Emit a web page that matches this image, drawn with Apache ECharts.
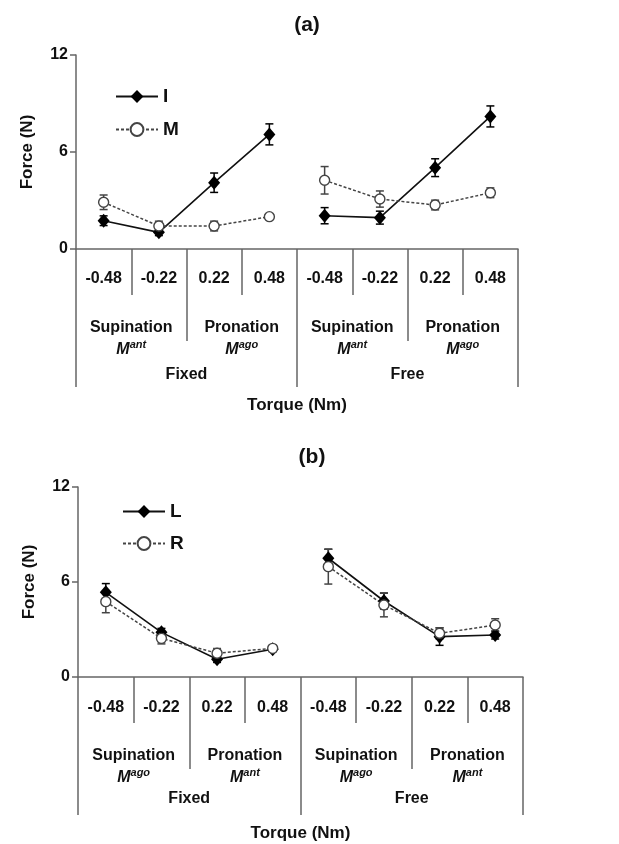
<!DOCTYPE html>
<html>
<head>
<meta charset="utf-8">
<script src="https://cdn.jsdelivr.net/npm/echarts@6/dist/echarts.min.js"></script>
<style>
  html, body { margin: 0; padding: 0; background: #fff; }
  #chart { width: 619px; height: 844px; }
</style>
</head>
<body>
<div id="chart"></div>
<script>
// tick labels / categories
var torque = ['-0.48', '-0.22', '0.22', '0.48', '-0.48', '-0.22', '0.22', '0.48']
var motion = ['Supination', 'Pronation', 'Supination', 'Pronation']
var muscleA = ['ant', 'ago', 'ant', 'ago']
var muscleB = ['ago', 'ant', 'ago', 'ant']
var condition = ['Fixed', 'Free']

// panel (a): I and M
var iMean = [1.75, 1.03, 4.1, 7.09, 2.06, 1.94, 5.03, 8.2]
var iErr = [0.3, 0.2, 0.6, 0.65, 0.5, 0.4, 0.55, 0.65]
var mMean = [2.89, 1.42, 1.42, 2.0, 4.25, 3.09, 2.72, 3.48]
var mErr = [0.45, 0.3, 0.3, 0.15, 0.85, 0.5, 0.3, 0.3]

// panel (b): L and R
var lMean = [5.35, 2.82, 1.12, 1.75, 7.5, 4.8, 2.55, 2.65]
var lErr = [0.55, 0.25, 0.2, 0.15, 0.57, 0.5, 0.55, 0.25]
var rMean = [4.76, 2.44, 1.5, 1.81, 6.97, 4.55, 2.76, 3.28]
var rErr = [0.7, 0.35, 0.3, 0.15, 1.1, 0.75, 0.35, 0.4]

var font = 'Liberation Sans, Arial, sans-serif'
var axisColor = '#666'
var textColor = '#111'

// keep only the points of one group (Fixed = 0, Free = 1), so the line breaks between groups
function part(arr, g) {
    return arr.map(function(v, i) {
        return Math.floor(i / 4) === g ? v : '-'
    })
}

function errRender(params, api) {
    var x = api.value(0)
    var m = api.value(1)
    var e = api.value(2)
    var hi = api.coord([x, m + e])
    var lo = api.coord([x, m - e])
    var w = 4
    var style = { stroke: api.visual('color'), lineWidth: 1.5 }
    return {
        type: 'group',
        children: [
            { type: 'line', shape: { x1: hi[0], y1: hi[1], x2: lo[0], y2: lo[1] }, style: style },
            { type: 'line', shape: { x1: hi[0] - w, y1: hi[1], x2: hi[0] + w, y2: hi[1] }, style: style },
            { type: 'line', shape: { x1: lo[0] - w, y1: lo[1], x2: lo[0] + w, y2: lo[1] }, style: style }
        ]
    }
}

function xAxes(grid, muscle, d) {
    var tickStyle = { color: axisColor, width: 1.5 }
    return [{
        gridIndex: grid,
        type: 'category',
        data: torque,
        axisLine: { show: true, lineStyle: { color: axisColor, width: 1.5 } },
        axisTick: { show: true, interval: 0, length: 46, lineStyle: tickStyle },
        axisLabel: { interval: 0, margin: d.m0, fontSize: 16, fontWeight: 'bold', color: textColor, fontFamily: font }
    }, {
        gridIndex: grid,
        type: 'category',
        position: 'bottom',
        data: motion,
        axisLine: { show: false },
        axisTick: { show: true, interval: 0, length: 92, lineStyle: tickStyle },
        axisLabel: {
            interval: 0,
            margin: d.m1,
            fontSize: 16,
            fontWeight: 'bold',
            lineHeight: 22,
            color: textColor,
            fontFamily: font,
            formatter: function(v, i) {
                return v + '\n{m|M}{s|' + muscle[i] + '}'
            },
            rich: {
                m: { fontSize: 16, fontWeight: 'bold', fontStyle: 'italic', color: textColor, fontFamily: font },
                s: { fontSize: 11, fontWeight: 'bold', fontStyle: 'italic', color: textColor, fontFamily: font, verticalAlign: 'top', padding: [0, 0, 6, 0] }
            }
        }
    }, {
        gridIndex: grid,
        type: 'category',
        position: 'bottom',
        data: condition,
        axisLine: { show: false },
        axisTick: { show: true, interval: 0, length: 138, lineStyle: tickStyle },
        axisLabel: { interval: 0, margin: d.m2, fontSize: 16, fontWeight: 'bold', color: textColor, fontFamily: font },
        name: 'Torque (Nm)',
        nameLocation: 'middle',
        nameGap: d.ng,
        nameTextStyle: { fontSize: 17, fontWeight: 'bold', color: textColor, fontFamily: font }
    }]
}

function yAxis(grid) {
    return {
        gridIndex: grid,
        type: 'value',
        min: 0,
        max: 12,
        interval: 6,
        splitLine: { show: false },
        axisLine: { show: true, lineStyle: { color: axisColor, width: 1.5 } },
        axisTick: { show: true, length: 6, lineStyle: { color: axisColor, width: 1.5 } },
        axisLabel: { margin: 8, fontSize: 16, fontWeight: 'bold', color: textColor, fontFamily: font },
        name: 'Force (N)',
        nameLocation: 'middle',
        nameGap: 40,
        nameRotate: 90,
        nameTextStyle: { fontSize: 17, fontWeight: 'bold', color: textColor, fontFamily: font }
    }
}

function lineSeries(name, arr, grid, solid) {
    var out = []
    for (var g = 0; g < 2; g++) {
        out.push({
            name: name,
            type: 'line',
            xAxisIndex: grid * 3,
            yAxisIndex: grid,
            data: part(arr, g),
            z: 3,
            symbol: solid ? 'diamond' : 'circle',
            symbolSize: solid ? [12, 14] : 10,
            itemStyle: solid ? { color: '#000' } : { color: '#fff', borderColor: '#444', borderWidth: 1.4 },
            lineStyle: solid ? { color: '#111', width: 1.6 } : { color: '#444', width: 1.5, type: [3, 2] },
            color: solid ? '#000' : '#444'
        })
    }
    return out
}

function errSeries(name, mean, err, grid, color) {
    return {
        name: name + ' err',
        type: 'custom',
        xAxisIndex: grid * 3,
        yAxisIndex: grid,
        z: 2,
        itemStyle: { color: color },
        renderItem: errRender,
        data: mean.map(function(v, i) { return [i, v, err[i]] })
    }
}

var legendText = { fontSize: 19, fontWeight: 'bold', color: textColor, fontFamily: font }

var option = {
    backgroundColor: '#fff',
    animation: false,
    title: [
        { text: '(a)', left: 302, top: 10, textAlign: 'center', textStyle: { fontSize: 21, fontWeight: 'bold', color: textColor, fontFamily: font } },
        { text: '(b)', left: 307, top: 442, textAlign: 'center', textStyle: { fontSize: 21, fontWeight: 'bold', color: textColor, fontFamily: font } }
    ],
    legend: [
        { data: ['I', 'M'], orient: 'vertical', left: 110, top: 82, itemWidth: 42, itemHeight: 16, itemGap: 14, textStyle: legendText },
        { data: ['L', 'R'], orient: 'vertical', left: 117, top: 497, itemWidth: 42, itemHeight: 16, itemGap: 13, textStyle: legendText }
    ],
    grid: [
        { left: 76, top: 55, width: 442, height: 194 },
        { left: 78, top: 487, width: 445, height: 190 }
    ],
    xAxis: xAxes(0, muscleA, { m0: 22, m1: 68, m2: 118, ng: 148 }).concat(xAxes(1, muscleB, { m0: 23, m1: 68, m2: 114, ng: 148 })),
    yAxis: [yAxis(0), yAxis(1)],
    series: [].concat(
        errSeries('I', iMean, iErr, 0, '#000'),
        errSeries('M', mMean, mErr, 0, '#444'),
        lineSeries('I', iMean, 0, true),
        lineSeries('M', mMean, 0, false),
        errSeries('L', lMean, lErr, 1, '#000'),
        errSeries('R', rMean, rErr, 1, '#444'),
        lineSeries('L', lMean, 1, true),
        lineSeries('R', rMean, 1, false)
    )
}

var myChart = echarts.init(document.getElementById('chart'))
myChart.setOption(option)
</script>
</body>
</html>
